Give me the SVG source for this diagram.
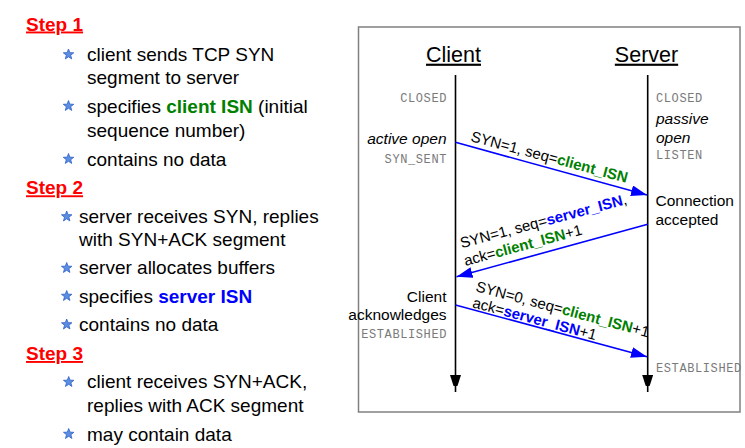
<svg xmlns="http://www.w3.org/2000/svg" xmlns:xlink="http://www.w3.org/1999/xlink" width="745" height="448" viewBox="0 0 745 448">
<style>
  text { font-family: "Liberation Sans", Arial, sans-serif; fill: #000; }
  .step { font-size: 19px; font-weight: bold; fill: #ff0000; text-decoration: underline; }
  .item { font-size: 19px; }
  .g { fill: #008000; font-weight: bold; }
  .b { fill: #0000ff; font-weight: bold; }
  .title { font-size: 21.5px; text-decoration: underline; text-anchor: middle; }
  .mono { font-family: "Liberation Mono", "Courier New", monospace; font-size: 12px; fill: #7a7a7a; letter-spacing: 0.6px; }
  .side { font-size: 15.5px; }
  .it { font-style: italic; }
  .lbl { font-size: 15px; }
  .msg { stroke: #0000ff; stroke-width: 1.6; fill: none; marker-end: url(#bh); }
  .life { stroke: #000; stroke-width: 1.6; fill: none; marker-end: url(#kh); }
  .star { fill: #5b8de0; stroke: #2b5fc8; stroke-width: 0.8; stroke-linejoin: round; }
</style>
<defs>
  <polygon id="star" class="star" points="0,-5.5 1.352,-1.861 5.231,-1.7 2.187,0.711 3.233,4.45 0,2.3 -3.233,4.45 -2.187,0.711 -5.231,-1.7 -1.352,-1.861"/>
  <marker id="bh" markerUnits="userSpaceOnUse" markerWidth="16" markerHeight="11" refX="16" refY="5.5" orient="auto">
    <path d="M0,0 L16,5.5 L0,11 z" fill="#0000ff"/>
  </marker>
  <marker id="kh" markerUnits="userSpaceOnUse" markerWidth="11" markerHeight="17" refX="17" refY="5.5" orient="auto">
    <path d="M0,0 L17,5.5 L0,11 z" fill="#000"/>
  </marker>
</defs>
<rect width="745" height="448" fill="#fff"/>

<g id="steps">
  <g id="step1">
    <text class="step" x="26" y="30.5">Step 1</text>
    <use xlink:href="#star" x="68.5" y="54.5"/>
    <text class="item" x="87" y="61">client sends TCP SYN</text>
    <text class="item" x="87" y="84">segment to server</text>
    <use xlink:href="#star" x="68.5" y="106"/>
    <text class="item" x="87" y="112.7">specifies <tspan class="g">client ISN</tspan> (initial</text>
    <text class="item" x="87" y="136.7">sequence number)</text>
    <use xlink:href="#star" x="68.5" y="159"/>
    <text class="item" x="87" y="165.7">contains no data</text>
  </g>
  <g id="step2">
    <text class="step" x="26" y="194.3">Step 2</text>
    <use xlink:href="#star" x="66.7" y="216.5"/>
    <text class="item" x="79" y="223">server receives SYN, replies</text>
    <text class="item" x="79" y="246">with SYN+ACK segment</text>
    <use xlink:href="#star" x="66.7" y="268"/>
    <text class="item" x="79" y="274.3">server allocates buffers</text>
    <use xlink:href="#star" x="66.7" y="296"/>
    <text class="item" x="79" y="302.7">specifies <tspan class="b">server ISN</tspan></text>
    <use xlink:href="#star" x="66.7" y="324.5"/>
    <text class="item" x="79" y="331">contains no data</text>
  </g>
  <g id="step3">
    <text class="step" x="26" y="360">Step 3</text>
    <use xlink:href="#star" x="68.7" y="382"/>
    <text class="item" x="87" y="388.3">client receives SYN+ACK,</text>
    <text class="item" x="87" y="412">replies with ACK segment</text>
    <use xlink:href="#star" x="68.7" y="434"/>
    <text class="item" x="87" y="440.7">may contain data</text>
  </g>
</g>

<rect id="frame" x="358.5" y="27" width="381.5" height="385" fill="none" stroke="#808080" stroke-width="1.5"/>

<g id="client">
  <text class="title" x="453.5" y="61.7">Client</text>
  <text class="mono" x="447" y="102.3" text-anchor="end">CLOSED</text>
  <text class="side it" x="446.5" y="144" text-anchor="end">active open</text>
  <text class="mono" x="447" y="163" text-anchor="end">SYN_SENT</text>
  <text class="side" x="446.5" y="301.7" text-anchor="end">Client</text>
  <text class="side" x="446.5" y="320" text-anchor="end">acknowledges</text>
  <text class="mono" x="447" y="337.5" text-anchor="end">ESTABLISHED</text>
</g>

<g id="server">
  <text class="title" x="646.5" y="61.7">Server</text>
  <text class="mono" x="656" y="102.3">CLOSED</text>
  <text class="side it" x="656" y="124">passive</text>
  <text class="side it" x="656" y="142.6">open</text>
  <text class="mono" x="656" y="159">LISTEN</text>
  <text class="side" x="655.5" y="206">Connection</text>
  <text class="side" x="655.5" y="225">accepted</text>
  <text class="mono" x="656" y="372">ESTABLISHED</text>
</g>

<g id="labels">
  <text class="lbl" transform="translate(470,141) rotate(15)">SYN=1, seq=<tspan class="g">client_ISN</tspan></text>
  <g transform="translate(461.7,248.3) rotate(-15)">
    <text class="lbl" x="0" y="0">SYN=1, seq=<tspan class="b">server_ISN</tspan>,</text>
    <text class="lbl" x="-1" y="18">ack=<tspan class="g">client_ISN</tspan>+1</text>
  </g>
  <g transform="translate(475,291) rotate(15)">
    <text class="lbl" x="0" y="0">SYN=0, seq=<tspan class="g">client_ISN</tspan>+1</text>
    <text class="lbl" x="1" y="16.5">ack=<tspan class="b">server_ISN</tspan>+1</text>
  </g>
</g>

<g id="connectors">
  <line class="life" x1="455.5" y1="75" x2="455.5" y2="392"/>
  <line class="life" x1="647.7" y1="75" x2="647.7" y2="392"/>
  <line class="msg" x1="455.5" y1="142.3" x2="647" y2="195"/>
  <line class="msg" x1="647.7" y1="224.3" x2="456.5" y2="276.7"/>
  <line class="msg" x1="455.5" y1="305" x2="647" y2="356.7"/>
</g>
</svg>
